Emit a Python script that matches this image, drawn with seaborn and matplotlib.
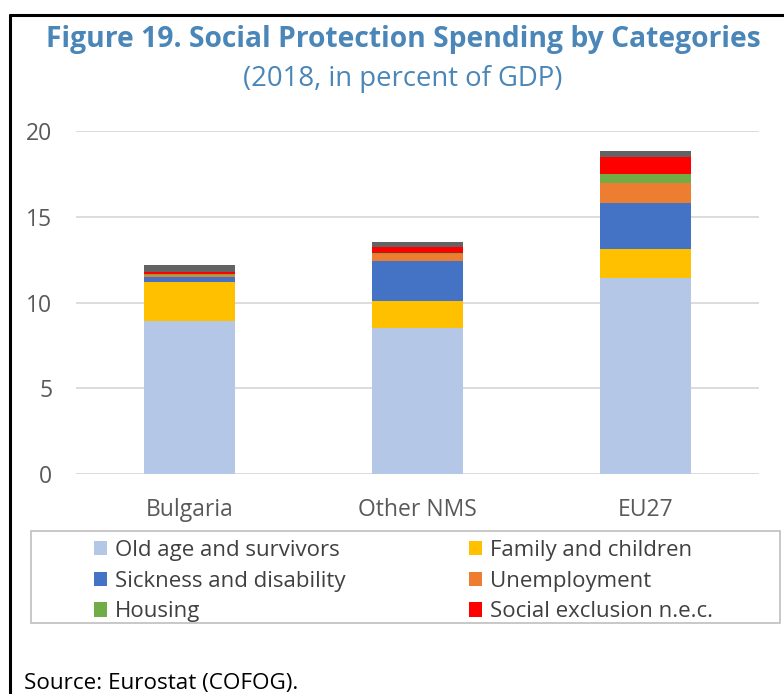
import numpy as np
import pandas as pd
import matplotlib
matplotlib.use("Agg")
import matplotlib.pyplot as plt
from matplotlib.patches import Rectangle, Patch
from matplotlib.lines import Line2D
import seaborn as sns

countries = ["Bulgaria", "Other NMS", "EU27"]
old_age = [8.9, 8.5, 11.4]
family = [2.3, 1.6, 1.7]
sickness = [0.27, 2.3, 2.7]
unemployment = [0.16, 0.4, 1.15]
housing = [0.05, 0.08, 0.55]
social_excl = [0.08, 0.33, 0.97]
other = [0.4, 0.34, 0.35]

series_names = ["Old age and survivors", "Family and children", "Sickness and disability",
                "Unemployment", "Housing", "Social exclusion n.e.c.", "Other"]
series_vals = [old_age, family, sickness, unemployment, housing, social_excl, other]
colors = ["#B4C7E7", "#FFC000", "#4472C4", "#ED7D31", "#70AD47", "#FF0000", "#636363"]

sns.set_theme(style="white")
plt.rcParams['font.family'] = ['Open Sans', 'DejaVu Sans']

fig = plt.figure(figsize=(7.84, 6.94), dpi=100)
ax = fig.add_axes([76/784, (694-474)/694, (759-76)/784, (474-131)/694])

bottom = np.zeros(len(countries))
for name, vals, c in zip(series_names, series_vals, colors):
    df = pd.DataFrame({"country": countries, "value": vals})
    sns.barplot(data=df, x="country", y="value", color=c, width=0.4,
                bottom=bottom, ax=ax, saturation=1, edgecolor="none", linewidth=0)
    bottom = bottom + np.array(vals)

ax.set_ylim(0, 20)
ax.set_yticks([0, 5, 10, 15, 20])
ax.set_xlabel("")
ax.set_ylabel("")
ax.yaxis.grid(True, color="#D9D9D9", linewidth=1.3)
ax.set_axisbelow(True)
for s in ax.spines.values():
    s.set_visible(False)
ax.tick_params(axis="both", length=0, labelcolor="#595959", labelsize=16.5)
ax.tick_params(axis="y", pad=17)
ax.tick_params(axis="x", pad=17)

title_color = "#4A86B8"
fig.text(0.514, 1 - 40/694, "Figure 19. Social Protection Spending by Categories",
         ha="center", va="center", fontsize=20.3, fontweight="bold", color=title_color)
fig.text(0.514, 1 - 79/694, "(2018, in percent of GDP)",
         ha="center", va="center", fontsize=19.8, color=title_color)

# outer black border (top and left)
fig.add_artist(Line2D([10/784, 1.0], [1 - 15/694, 1 - 15/694], color="black", lw=2.2,
                      transform=fig.transFigure))
fig.add_artist(Line2D([10/784, 10/784], [0, 1 - 15/694], color="black", lw=2.2,
                      transform=fig.transFigure))

# legend box
fig.add_artist(Rectangle((31/784, (694-623)/694), (780-31)/784, (623-531)/694,
                         transform=fig.transFigure, fill=False, edgecolor="#BFBFBF", lw=1.2))

order = [0, 2, 4, 1, 3, 5]
handles = [Patch(facecolor=colors[i], edgecolor="none") for i in order]
labels = [series_names[i] for i in order]
leg = fig.legend(handles, labels, ncol=2, frameon=False, loc="upper left",
                 bbox_to_anchor=(76/784, 1 - 522/694), fontsize=16,
                 labelcolor="#404040", handlelength=0.6, handleheight=0.6,
                 handletextpad=0.35, columnspacing=5.57, labelspacing=0.44,
                 borderpad=0.3)

fig.text(24/784, 1 - 684/694, "Source: Eurostat (COFOG).", ha="left", va="center",
         fontsize=16.2, color="black")

fig.savefig("out.png", dpi=100, facecolor="white")
